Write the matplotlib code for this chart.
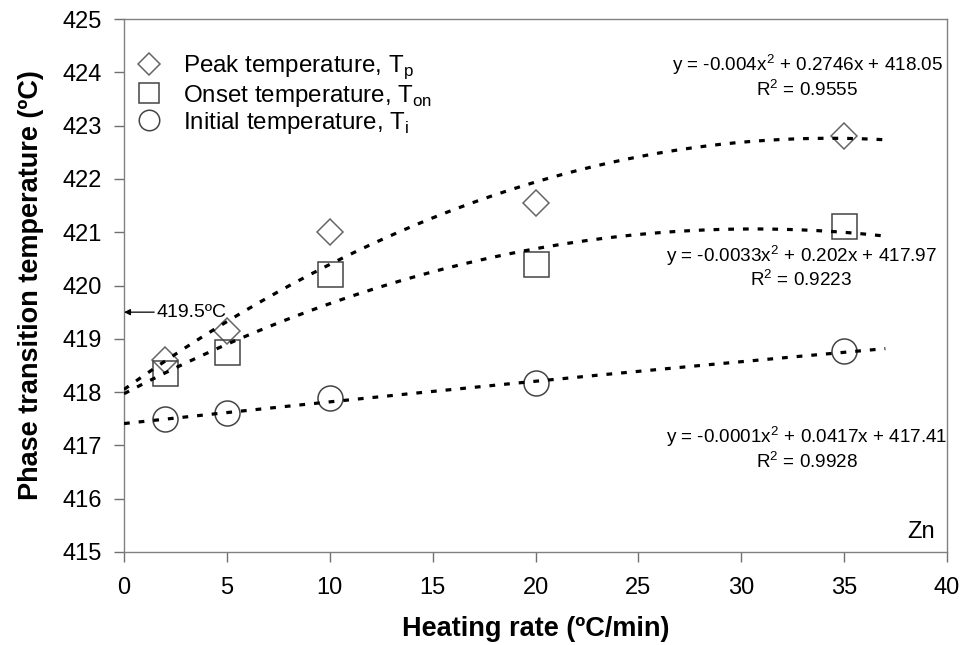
import numpy as np
import matplotlib
matplotlib.use("Agg")
import matplotlib.pyplot as plt

plt.rcParams["font.family"] = ["Liberation Sans", "DejaVu Sans"]
plt.rcParams["mathtext.fontset"] = "custom"
plt.rcParams["mathtext.rm"] = "Liberation Sans"

# heating rates (ºC/min) and measured temperatures (ºC)
rate = [2, 5, 10, 20, 35]
t_peak = [418.6, 419.15, 421.0, 421.55, 422.8]
t_onset = [418.35, 418.75, 420.22, 420.4, 421.12]
t_init = [417.5, 417.6, 417.88, 418.17, 418.77]

# quadratic trend lines (a, b, c) and their R^2
fit_peak = [-0.004, 0.2746, 418.05]
fit_onset = [-0.0033, 0.202, 417.97]
fit_init = [-0.0001, 0.0417, 417.41]
r2 = [0.9555, 0.9223, 0.9928]

fig = plt.figure(figsize=(9.66, 6.45), dpi=100)
ax = fig.add_axes([0.1284, 0.1442, 0.852, 0.8263])

xf = np.linspace(0, 37, 200)
for coef in (fit_peak, fit_onset, fit_init):
    ax.plot(xf, np.polyval(coef, xf), color="black", lw=2.3,
            dashes=(1.8, 2.8), zorder=3)

ax.plot(rate, t_peak, ls="none", marker="D", ms=13.5, mfc="none",
        mec="#666666", mew=1.1, label="Peak temperature, T$_\\mathregular{p}$", zorder=2)
ax.plot(rate, t_onset, ls="none", marker="s", ms=18, mfc="none",
        mec="#444444", mew=1.1, label="Onset temperature, T$_\\mathregular{on}$", zorder=2)
ax.plot(rate, t_init, ls="none", marker="o", ms=18, mfc="none",
        mec="#444444", mew=1.1, label="Initial temperature, T$_\\mathregular{i}$", zorder=2)

ax.set_xlim(0, 40)
ax.set_ylim(415, 425)
ax.set_xticks(np.arange(0, 41, 5))
ax.set_yticks(np.arange(415, 426, 1))
ax.tick_params(direction="out", length=7, width=1, color="#707070",
               labelsize=17)
ax.tick_params(axis="x", pad=11)
ax.tick_params(axis="y", pad=9)
for s in ax.spines.values():
    s.set_color("#808080")
    s.set_linewidth(1)

ax.set_xlabel("Heating rate (ºC/min)", fontsize=19.5, fontweight="bold", labelpad=12)
ax.set_ylabel("Phase transition temperature (ºC)", fontsize=19.5,
              fontweight="bold", labelpad=13)

ax.legend(loc="upper left", bbox_to_anchor=(0.0128, 0.935), frameon=False,
          fontsize=17.4, markerscale=0.82, handlelength=1.2,
          handletextpad=0.8, labelspacing=0.05, borderaxespad=0.0,
          borderpad=0.0)

# fitted equations, centred at (x, y) in axes fraction
eq_pos = [(0.830, 0.893), (0.823, 0.535), (0.830, 0.195)]
for (a, b, c), r, (xa, ya) in zip((fit_peak, fit_onset, fit_init), r2, eq_pos):
    ax.text(xa, ya, f"y = {a:g}x$^2$ + {b:g}x + {c:g}\nR$^2$ = {r:.4f}",
            transform=ax.transAxes, ha="center", va="center", fontsize=13.6,
            multialignment="center", linespacing=1.1)

ax.annotate("419.5ºC", xy=(0, 419.5), xytext=(1.6, 419.5),
            fontsize=14, va="center", ha="left",
            arrowprops=dict(arrowstyle="-|>", color="black", lw=0.9,
                            mutation_scale=9, shrinkA=0, shrinkB=0))

ax.text(0.985, 0.026, "Zn", transform=ax.transAxes, ha="right", va="baseline",
        fontsize=17)

fig.savefig("out.png", dpi=100)
